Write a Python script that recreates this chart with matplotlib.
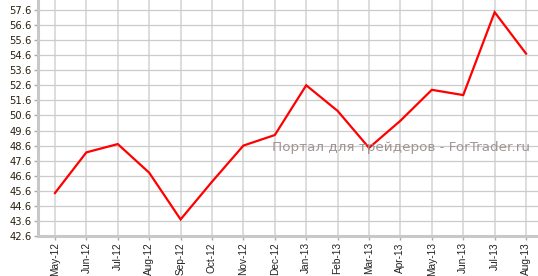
import matplotlib
matplotlib.use("Agg")
import matplotlib.pyplot as plt

months = ["May-12", "Jun-12", "Jul-12", "Aug-12", "Sep-12", "Oct-12", "Nov-12", "Dec-12",
          "Jan-13", "Feb-13", "Mar-13", "Apr-13", "May-13", "Jun-13", "Jul-13", "Aug-13"]
values = [45.45, 48.15, 48.7, 46.8, 43.7, 46.2, 48.6, 49.3,
          52.6, 50.9, 48.45, 50.25, 52.3, 51.95, 57.45, 54.7]
yticks = [42.6, 43.6, 44.6, 45.6, 46.6, 47.6, 48.6, 49.6, 50.6, 51.6,
          52.6, 53.6, 54.6, 55.6, 56.6, 57.6]
watermark = "Портал для трейдеров - ForTrader.ru"

fig = plt.figure(figsize=(5.38, 2.76), dpi=100)
ax = fig.add_axes([38/538, 40/276, 500/538, 236/276])

x = list(range(len(months)))
ax.plot(x, values, color="#ff0000", lw=1.6, zorder=3, solid_joinstyle="miter")

ax.set_xlim(-0.54, len(months) - 1 + 0.38)
ax.set_ylim(42.6, 58.26)
ax.set_xticks(x)
ax.set_xticklabels(months, rotation=90, fontsize=7.3, family="Liberation Sans", color="#222222")
ax.set_yticks(yticks)
ax.set_yticklabels([f"{v:.1f}" for v in yticks], fontsize=7.2, family="DejaVu Sans", color="#2a2010")

ax.grid(axis="y", color="#cccccc", lw=0.9, zorder=0)
ax.grid(axis="x", color="#dddddd", lw=1.4, zorder=0)
ax.set_axisbelow(True)
for s in ["top", "right"]:
    ax.spines[s].set_visible(False)
for s in ["left", "bottom"]:
    ax.spines[s].set_color("#c8c8c8")
    ax.spines[s].set_linewidth(2.2)
ax.tick_params(axis="both", length=3, width=1, color="#aaaaaa", pad=1.5)

fig.text(530/538, 1 - 148/276, watermark, ha="right", va="center", fontsize=9.7,
         family="DejaVu Sans", color="#9a8a8a", alpha=0.9, zorder=5)

fig.savefig("out.png", dpi=100)
